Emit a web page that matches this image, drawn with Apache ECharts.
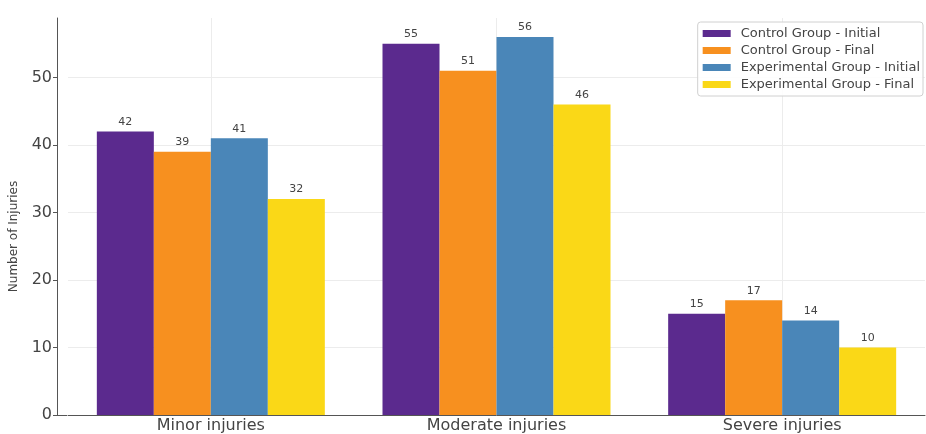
<!DOCTYPE html>
<html>
<head>
<meta charset="utf-8">
<script src="https://cdn.jsdelivr.net/npm/echarts@6/dist/echarts.min.js"></script>
<style>html,body{margin:0;padding:0;background:#fff;}#c{width:926px;height:434px;}</style>
</head>
<body>
<div id="c"></div>
<script>
const categories = ['Minor injuries', 'Moderate injuries', 'Severe injuries'];
const seriesNames = ['Control Group - Initial', 'Control Group - Final', 'Experimental Group - Initial', 'Experimental Group - Final'];
const controlInitial = [42, 55, 15];
const controlFinal = [39, 51, 17];
const experimentalInitial = [41, 56, 14];
const experimentalFinal = [32, 46, 10];
const yTicks = [0, 10, 20, 30, 40, 50];

const colors = ['#5b2a8e', '#f7901f', '#4a86b8', '#fad817'];
const values = [controlInitial, controlFinal, experimentalInitial, experimentalFinal];
const font = 'DejaVu Sans';

const chart = echarts.init(document.getElementById('c'), null, {renderer: 'canvas'});
const series = values.map((v, i) => ({
  name: seriesNames[i],
  type: 'bar',
  data: v,
  barWidth: 57,
  barGap: '0%',
  itemStyle: {color: colors[i]},
  label: {show: true, position: 'top', distance: 4, fontSize: 11, color: '#444', fontFamily: font},
  z: 3
}));
series.push({
  name: 'vgrid', type: 'line', data: [], z: 1, silent: true,
  markLine: {
    silent: true, symbol: 'none', label: {show: false}, z: 1,
    lineStyle: {color: '#ececec', type: 'solid', width: 1},
    data: categories.map(c => ({xAxis: c}))
  }
});

chart.setOption({
  animation: false,
  textStyle: {fontFamily: font},
  grid: {left: 67, right: 1, top: 18, bottom: 19, containLabel: false},
  legend: {
    orient: 'vertical', right: 3, top: 22,
    data: seriesNames,
    itemWidth: 28, itemHeight: 7, itemGap: 4,
    padding: [5, 3, 5, 5],
    borderColor: '#d0d0d0', borderWidth: 1, borderRadius: 3,
    backgroundColor: 'rgba(255,255,255,0.9)',
    icon: 'rect',
    textStyle: {fontSize: 13, color: '#444', fontFamily: font, padding: [0, 0, 0, 5]}
  },
  xAxis: {
    type: 'category', data: categories,
    axisLine: {lineStyle: {color: '#555', width: 1}},
    axisTick: {show: false},
    axisLabel: {fontSize: 16, color: '#444', margin: 3, fontFamily: font},
    splitLine: {show: false}
  },
  yAxis: {
    type: 'value', min: 0, max: 58.8, interval: 10,
    offset: 11,
    name: 'Number of Injuries', nameLocation: 'middle', nameGap: 37,
    nameTextStyle: {fontSize: 12, color: '#444', fontFamily: font, padding: [0, 40, 0, 0]},
    axisLine: {show: true, lineStyle: {color: '#555', width: 1}},
    axisTick: {show: true, length: 4, lineStyle: {color: '#555'}},
    axisLabel: {fontSize: 16, color: '#444', margin: 5, fontFamily: font, showMaxLabel: false,
      formatter: v => yTicks.includes(v) ? String(v) : ''},
    splitLine: {show: true, showMaxLine: false, lineStyle: {color: '#ececec', width: 1}}
  },
  graphic: [{
    type: 'line', shape: {x1: 56, y1: 415.5, x2: 67, y2: 415.5},
    style: {stroke: '#555', lineWidth: 1}, silent: true
  }],
  series: series
});
</script>
</body>
</html>
